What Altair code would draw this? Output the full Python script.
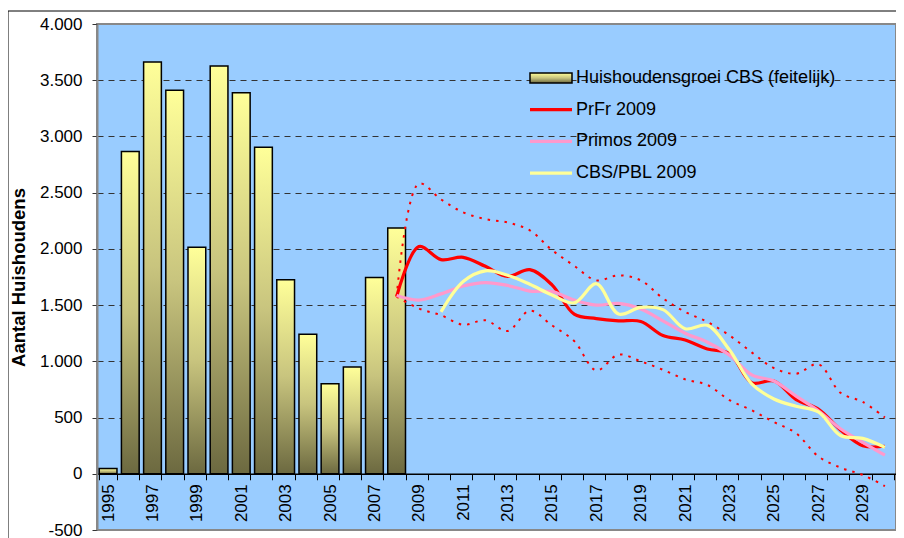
import altair as alt
import pandas as pd

# ---------------- data ----------------
bar_years = list(range(1995, 2009))
bar_values = [46, 2865, 3662, 3410, 2014, 3626, 3388, 2905, 1725, 1240, 800, 950, 1745, 2185]

proj_years = list(range(2008, 2031))
prfr = [1575, 2020, 1905, 1925, 1845, 1755, 1815, 1680, 1420, 1380, 1360, 1355, 1230,
        1190, 1110, 1070, 810, 825, 660, 575, 390, 250, 245]
prfr_upper = [1575, 2580, 2440, 2325, 2265, 2235, 2165, 1990, 1850, 1720, 1765, 1720, 1560,
              1440, 1350, 1230, 1080, 940, 890, 975, 720, 640, 500]
prfr_lower = [1575, 1470, 1410, 1325, 1365, 1270, 1450, 1320, 1180, 920, 1060, 1000, 925,
              840, 790, 655, 565, 460, 360, 155, 55, -10, -110]
primos = [1585, 1545, 1600, 1670, 1700, 1675, 1625, 1620, 1545, 1500, 1515, 1465, 1360,
          1250, 1170, 1055, 880, 825, 690, 560, 400, 280, 165]

cbs_years = list(range(2010, 2031))
cbs_pbl = [1440, 1710, 1805, 1765, 1685, 1590, 1520, 1690, 1420, 1480, 1460, 1290, 1320,
           1100, 800, 665, 600, 550, 340, 315, 235]

all_years = list(range(1995, 2031))
y_ticks = [-500, 0, 500, 1000, 1500, 2000, 2500, 3000, 3500, 4000]
legend_labels = ["Huishoudensgroei CBS (feitelijk)", "PrFr 2009", "Primos 2009", "CBS/PBL 2009"]
line_colors = ["#FF0000", "#FF99CC", "#FFFF99"]

# ---------------- layout ----------------
W, H = 799, 506
FONT = "Liberation Sans"
BAR_GRADIENT = {
    "gradient": "linear", "x1": 0, "x2": 0, "y1": 0, "y2": 1,
    "stops": [{"offset": 0, "color": "#FFFF99"},
              {"offset": 0.5, "color": "#C8C47E"},
              {"offset": 1, "color": "#6C6940"}],
}

x_scale = alt.Scale(domain=all_years, paddingInner=0.2, paddingOuter=0.1)
y_scale = alt.Scale(domain=[-500, 4000], nice=False, zero=False)

x_axis = alt.Axis(
    title=None, orient="bottom", offset=-H * 500 / 4500, tickBand="extent",
    labelAngle=270, labelAlign="right", labelBaseline="middle", labelPadding=4,
    tickSize=6, tickColor="black", domainColor="black", domainWidth=1.5,
    labelExpr="datum.value % 2 == 1 ? datum.label : ''", labelOverlap=False,
    labelFontSize=17, labelFont=FONT, labelColor="black", grid=False,
)
y_axis = alt.Axis(
    title="Aantal Huishoudens", values=y_ticks,
    labelExpr="(datum.value < 0 ? '-' : '') + replace(format(abs(datum.value), ','), ',', '.')",
    grid=True, gridColor="#333333", gridDash=[6, 5], gridWidth=1,
    gridOpacity={"condition": {"test": "datum.value <= 0 || datum.value >= 4000", "value": 0}, "value": 1},
    tickSize=5, tickColor="#333333", domainColor="#888888", domainWidth=2,
    labelPadding=10, labelFontSize=17, labelFont=FONT, labelColor="black",
    titleFont=FONT, titleFontSize=18.5, titleFontWeight="bold", titleColor="black",
    titleAngle=270, titleX=-79, titleY=H / 2, titleAlign="center", titleBaseline="middle",
)

bars_df = pd.DataFrame({"year": bar_years, "value": bar_values})
one = pd.DataFrame({"a": [0]})

frame = alt.Chart(one).mark_rect(fillOpacity=0, stroke="black", strokeWidth=1).encode(
    x=alt.value(-89), x2=alt.value(W + 50), y=alt.value(-13), y2=alt.value(H + 50)
)

bars = alt.Chart(bars_df).mark_bar(fill=BAR_GRADIENT, stroke="black", strokeWidth=1.5).encode(
    x=alt.X("year:O", scale=x_scale, axis=x_axis),
    y=alt.Y("value:Q", scale=y_scale, axis=y_axis),
    y2=alt.datum(0),
)


def line(years, values, color, width=3.2, dash=None):
    df = pd.DataFrame({"year": years, "value": values})
    kw = dict(interpolate="catmull-rom", color=color, strokeWidth=width)
    if dash:
        kw["strokeDash"] = dash
    return alt.Chart(df).mark_line(**kw).encode(
        x=alt.X("year:O", scale=x_scale),
        y=alt.Y("value:Q", scale=y_scale),
    )


upper = line(proj_years, prfr_upper, "#FF0000", 2, [2.5, 6])
lower = line(proj_years, prfr_lower, "#FF0000", 2, [2.5, 6])
l_prfr = line(proj_years, prfr, line_colors[0])
l_primos = line(proj_years, primos, line_colors[1])
l_cbs = line(cbs_years, cbs_pbl, line_colors[2])

# ---------------- legend ----------------
LX0, LX1, TX = 433, 475, 479
rows = [54 + i * 31.7 for i in range(4)]
legend_layers = [
    alt.Chart(one).mark_rect(fill=BAR_GRADIENT, stroke="black", strokeWidth=1.5).encode(
        x=alt.value(LX0), x2=alt.value(LX1), y=alt.value(rows[0] - 5), y2=alt.value(rows[0] + 5)
    )
]
for i, c in enumerate(line_colors):
    legend_layers.append(
        alt.Chart(one).mark_rule(color=c, strokeWidth=3.2).encode(
            x=alt.value(LX0), x2=alt.value(LX1), y=alt.value(rows[i + 1])
        )
    )
for i, lab in enumerate(legend_labels):
    legend_layers.append(
        alt.Chart(pd.DataFrame({"label": [lab]})).mark_text(
            align="left", baseline="middle", font=FONT, fontSize=18, color="black"
        ).encode(x=alt.value(TX), y=alt.value(rows[i]), text="label:N")
    )

chart = alt.layer(
    frame, bars, upper, lower, l_prfr, l_primos, l_cbs, *legend_layers
).properties(
    width=W, height=H,
    padding={"left": 89, "top": 16, "right": 0, "bottom": 9},
    autosize=alt.AutoSizeParams(type="none"),
    background="white",
).configure_view(
    fill="#99CCFF", stroke="#888888", strokeWidth=2
)

chart.save("out.html", embed_options={"renderer": "svg", "actions": False})
